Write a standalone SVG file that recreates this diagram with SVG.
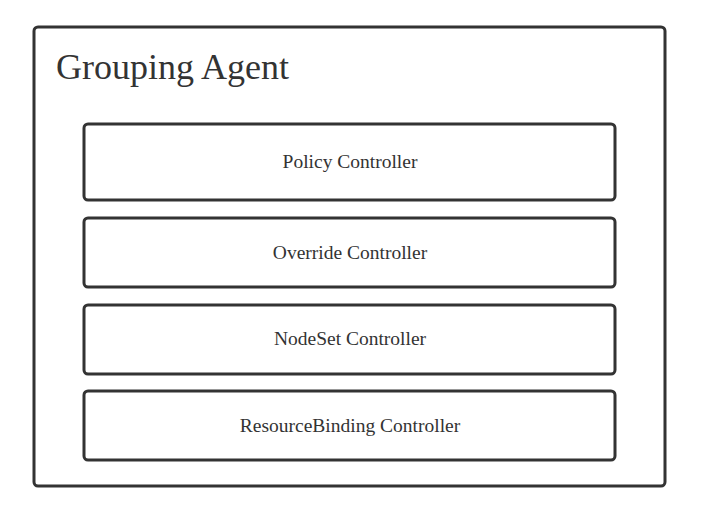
<svg xmlns="http://www.w3.org/2000/svg" width="705" height="516" viewBox="0 0 705 516">
<style>
.box{fill:#fff;stroke:#333;stroke-width:3}
.lbl{font-family:"Liberation Serif",serif;font-size:19.5px;fill:#333;text-anchor:middle;dominant-baseline:central}
.title{font-family:"Liberation Serif",serif;font-size:36px;fill:#333}
</style>
<rect width="705" height="516" fill="#fff"/>
<g id="grouping-agent">
<rect class="box" x="34" y="27" width="631" height="459" rx="4"/>
<text class="title" x="56" y="79">Grouping Agent</text>
</g>
<g id="policy-controller">
<rect class="box" x="84" y="124" width="531" height="76" rx="4"/>
<text class="lbl" x="350" y="161">Policy Controller</text>
</g>
<g id="override-controller">
<rect class="box" x="84" y="218" width="531" height="69" rx="4"/>
<text class="lbl" x="350" y="252">Override Controller</text>
</g>
<g id="nodeset-controller">
<rect class="box" x="84" y="305" width="531" height="69" rx="4"/>
<text class="lbl" x="350" y="338">NodeSet Controller</text>
</g>
<g id="resourcebinding-controller">
<rect class="box" x="84" y="391" width="531" height="69" rx="4"/>
<text class="lbl" x="350" y="425">ResourceBinding Controller</text>
</g>
<g id="connectors"></g>
</svg>
